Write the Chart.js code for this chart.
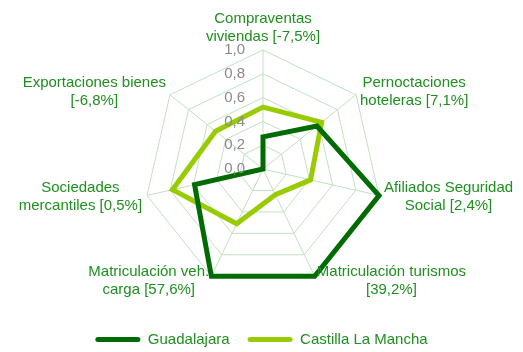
<!DOCTYPE html>
<html>
<head>
<meta charset="utf-8">
<script src="https://cdn.jsdelivr.net/npm/chart.js@4/dist/chart.umd.min.js"></script>
<style>
  html, body { margin: 0; padding: 0; background: #ffffff; }
  #wrap { width: 523px; height: 352px; }
</style>
</head>
<body>
<div id="wrap"><canvas id="c" width="523" height="352"></canvas></div>
<script>
// Indicator labels (each entry is a list of text lines)
const categories = [
  ['Compraventas', 'viviendas [-7,5%]'],
  ['Pernoctaciones', 'hoteleras [7,1%]'],
  ['Afiliados Seguridad', 'Social [2,4%]'],
  ['Matriculación turismos', '[39,2%]'],
  ['Matriculación veh.', 'carga [57,6%]'],
  ['Sociedades', 'mercantiles [0,5%]'],
  ['Exportaciones bienes', '[-6,8%]']
];

// Normalised index values per indicator
const guadalajara = [0.27, 0.58, 1.0, 1.0, 1.0, 0.59, 0.0];
const castillaLaMancha = [0.52, 0.63, 0.41, 0.24, 0.51, 0.78, 0.51];

// Radial tick values and their printed labels
const tickValues = [0, 0.2, 0.4, 0.6, 0.8, 1.0];
const tickLabels = ['0,0', '0,2', '0,4', '0,6', '0,8', '1,0'];

const FONT = '"Liberation Sans", Arial, sans-serif';
const LABEL_GREEN = '#1f8f1f';
const GRID_GREEN = '#c3dfc3';

// Fixed radar geometry inside the canvas
const CENTER_X = 263, CENTER_Y = 169, RADIUS = 119;

// Draws the value ticks to the left of the vertical axis and the
// multi-line indicator labels, centred line by line.
const radarText = {
  id: 'radarText',
  afterDatasetsDraw(chart) {
    const ctx = chart.ctx;
    const r = chart.scales.r;
    ctx.save();
    ctx.font = '15px ' + FONT;
    ctx.fillStyle = '#8a8a8a';
    ctx.textAlign = 'right';
    ctx.textBaseline = 'middle';
    tickValues.forEach((v, i) => {
      const y = r.yCenter - r.getDistanceFromCenterForValue(v);
      ctx.fillText(tickLabels[i], r.xCenter - 18, y);
    });

    ctx.fillStyle = LABEL_GREEN;
    const lineH = 18;
    categories.forEach((lines, i) => {
      const p = r.getPointPosition(i, r.drawingArea + 5);
      const widths = lines.map(t => ctx.measureText(t).width);
      const w = Math.max(...widths);
      const h = lines.length * lineH;
      const dx = p.x - r.xCenter;
      let left;
      if (dx > 5) left = p.x;
      else if (dx < -5) left = p.x - w;
      else left = p.x - w / 2;
      let top;
      if (Math.abs(dx) <= 5) top = p.y - h + 1;
      else top = p.y - h / 2;
      ctx.textAlign = 'center';
      lines.forEach((t, k) => {
        ctx.fillText(t, left + w / 2, top + lineH * k + lineH / 2);
      });
    });
    ctx.restore();
  }
};

new Chart(document.getElementById('c'), {
  type: 'radar',
  data: {
    labels: categories,
    datasets: [
      {
        label: 'Guadalajara',
        data: guadalajara,
        borderColor: '#006b00',
        backgroundColor: '#006b00',
        fill: false,
        borderWidth: 5,
        pointRadius: 0,
        pointHoverRadius: 0,
        borderJoinStyle: 'miter',
        tension: 0
      },
      {
        label: 'Castilla La Mancha',
        data: castillaLaMancha,
        borderColor: '#99cc00',
        backgroundColor: '#99cc00',
        fill: false,
        borderWidth: 5,
        pointRadius: 0,
        pointHoverRadius: 0,
        borderJoinStyle: 'miter',
        tension: 0
      }
    ]
  },
  options: {
    responsive: false,
    animation: false,
    events: [],
    layout: { padding: { left: 0, right: 0, top: 0, bottom: -5 } },
    scales: {
      r: {
        min: 0,
        max: 1,
        ticks: { display: false, stepSize: 0.2 },
        pointLabels: { display: false },
        grid: { color: GRID_GREEN, lineWidth: 1 },
        angleLines: { color: GRID_GREEN, lineWidth: 1 },
        afterFit(scale) {
          scale.xCenter = CENTER_X;
          scale.yCenter = CENTER_Y;
          scale.drawingArea = RADIUS;
        }
      }
    },
    plugins: {
      tooltip: { enabled: false },
      legend: {
        position: 'bottom',
        labels: {
          color: LABEL_GREEN,
          font: { family: FONT, size: 15 },
          boxWidth: 45,
          boxHeight: 5,
          useBorderRadius: true,
          borderRadius: 2.5,
          padding: 18,
          generateLabels(chart) {
            return Chart.defaults.plugins.legend.labels.generateLabels(chart)
              .map(item => Object.assign(item, { lineWidth: 0 }));
          }
        }
      }
    }
  },
  plugins: [radarText]
});
</script>
</body>
</html>
